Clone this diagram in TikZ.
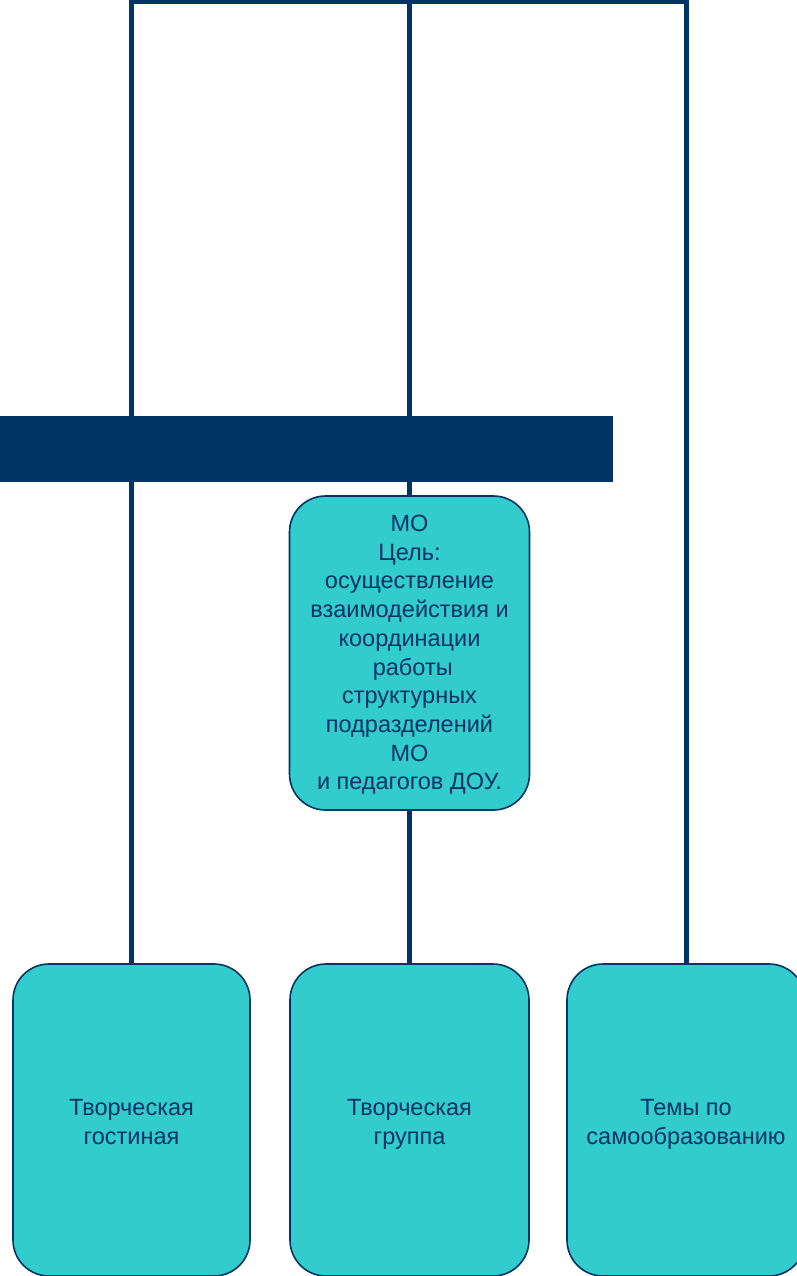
\documentclass[tikz,border=0pt]{standalone}
\usepackage{fontspec}
\setmainfont{Liberation Sans}
\definecolor{navy}{RGB}{0,51,102}
\definecolor{teal}{RGB}{51,204,204}
\newcommand{\toprule}{\rule{0pt}{28pt}}
\tikzset{
  unitbox/.style={draw=navy, line width=1.6pt, fill=teal, rounded corners=36pt,
    inner sep=0pt, text=navy, align=center,
    font=\fontsize{23.5}{28.7}\selectfont},
  link/.style={draw=navy, line width=5pt, line join=miter},
  bar/.style={fill=navy, draw=none, inner sep=0pt}
}
\begin{document}
\begin{tikzpicture}[x=1pt,y=-1pt]
\useasboundingbox (0,0) rectangle (797,1276);
\clip (0,0) rectangle (797,1276);
\node[bar, minimum width=613pt, minimum height=66pt] (bar) at (306.5,449) {};
\node[unitbox, minimum width=240pt, minimum height=314pt] (mo) at (409.5,653)
  {\rule{0pt}{24pt}МО\\Цель:\\осуществление\\взаимодействия и\\координации\\\hspace*{6.5pt}работы\\структурных\\подразделений\\МО\\и педагогов ДОУ.\strut};
\node[unitbox, minimum width=237pt, minimum height=312pt] (b1) at (131.5,1120) {\toprule Творческая\\гостиная\strut};
\node[unitbox, minimum width=239pt, minimum height=312pt] (b2) at (409.5,1120) {\toprule Творческая\\группа\strut};
\node[unitbox, minimum width=238pt, minimum height=312pt] (b3) at (686,1120) {\toprule Темы по\\самообразованию\strut};
\coordinate (tl) at (131.5,1.5);
\coordinate (tm) at (409.5,1.5);
\coordinate (tr) at (686,1.5);
\draw[link] (b1.north) -- (tl) -- (tr) -- (b3.north);
\draw[link] (tm) -- (mo.north);
\draw[link] (mo.south) -- (b2.north);
\end{tikzpicture}
\end{document}
